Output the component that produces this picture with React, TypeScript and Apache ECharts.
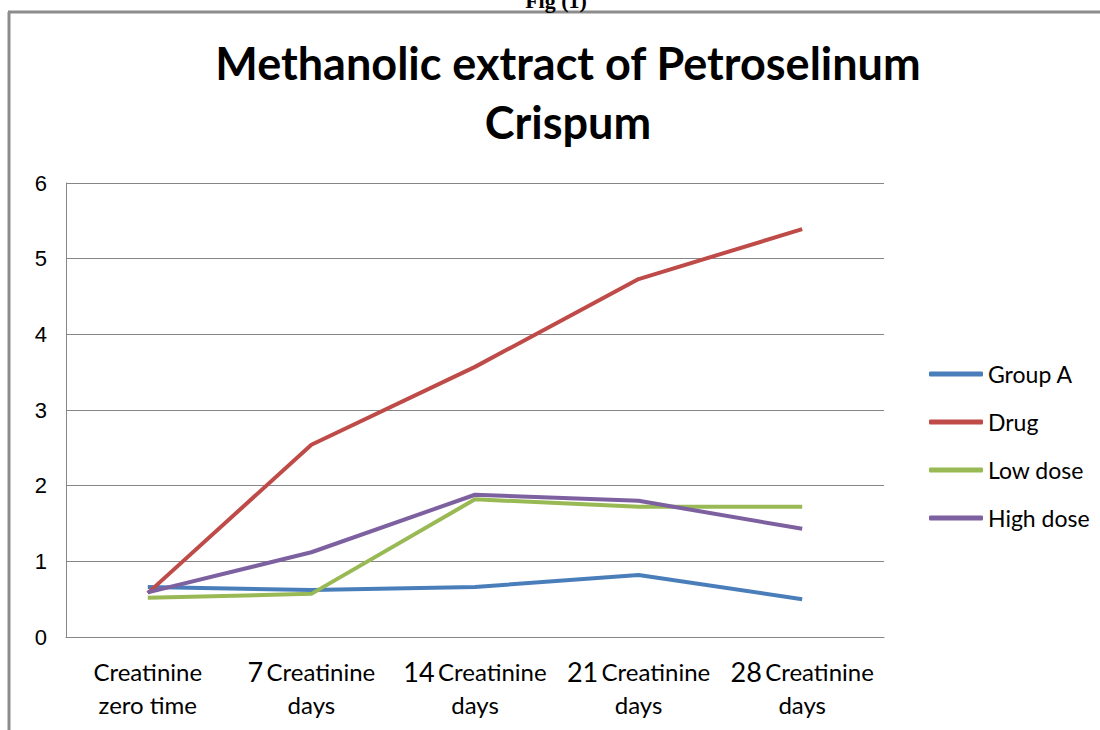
import React, { useEffect, useRef } from "react";
import * as echarts from "echarts";

const categories = [
  "Creatinine zero time",
  "7 Creatinine days",
  "14 Creatinine days",
  "21 Creatinine days",
  "28 Creatinine days",
];
const groupA = [0.66, 0.62, 0.66, 0.82, 0.5];
const drug = [0.58, 2.54, 3.57, 4.73, 5.39];
const lowDose = [0.52, 0.57, 1.82, 1.72, 1.72];
const highDose = [0.59, 1.12, 1.88, 1.8, 1.43];
const seriesNames = ["Group A", "Drug", "Low dose", "High dose"];
const colors = ["#4A7EBB", "#BE4B48", "#98B954", "#7D60A0"];
const yTicks = [0, 1, 2, 3, 4, 5, 6];

export default function App() {
  const ref = useRef<HTMLDivElement>(null);
  useEffect(() => {
    if (!ref.current) return;
    const chart = echarts.init(ref.current, undefined, { renderer: "svg" });
    const data = [groupA, drug, lowDose, highDose];
    chart.setOption({
      animation: false,
      backgroundColor: "#ffffff",
      title: {
        text: "Methanolic extract of Petroselinum\nCrispum",
        left: 563,
        textAlign: "center",
        top: 28,
        textStyle: {
          fontFamily: "Lato",
          fontWeight: "bold",
          fontSize: 45,
          lineHeight: 59,
          color: "#000",
        },
      },
      graphic: [
        {
          type: "line",
          shape: { x1: 9, y1: 12, x2: 9, y2: 730 },
          style: { stroke: "#8c8c8c", lineWidth: 3 },
        },
        {
          type: "line",
          shape: { x1: 8, y1: 12, x2: 1100, y2: 12 },
          style: { stroke: "#8c8c8c", lineWidth: 3 },
        },
        {
          type: "text",
          x: 556,
          y: 11,
          style: {
            text: "Fig (1)",
            textAlign: "center",
            textVerticalAlign: "bottom",
            font: 'bold 22px "Liberation Serif"',
            fill: "#000",
          },
        },
      ],
      legend: {
        orient: "vertical",
        left: 924,
        top: 357,
        itemWidth: 54,
        itemHeight: 5,
        itemGap: 24,
        icon: "roundRect",
        data: seriesNames,
        textStyle: { fontFamily: "Lato", fontSize: 23, lineHeight: 24, color: "#000" },
      },
      grid: { left: 66, right: 216, top: 183, bottom: 93 },
      xAxis: {
        type: "category",
        data: categories,
        boundaryGap: true,
        axisLine: { lineStyle: { color: "#868686", width: 1 } },
        axisTick: { show: false },
        axisLabel: {
          margin: 18,
          interval: 0,
          lineHeight: 33,
          formatter: (v: string) => {
            const m = v.match(/^(\d+) Creatinine days$/);
            if (m) return `{n|${m[1]}} {t|Creatinine}\n{t|days}`;
            return "{t|Creatinine}\n{t|zero time}";
          },
          rich: {
            n: { fontFamily: "Lato", fontSize: 27, color: "#000", lineHeight: 33 },
            t: { fontFamily: "Lato", fontSize: 24, color: "#000", lineHeight: 33 },
          },
        },
      },
      yAxis: {
        type: "value",
        min: yTicks[0],
        max: yTicks[yTicks.length - 1],
        interval: 1,
        axisLine: { show: true, lineStyle: { color: "#868686", width: 1 } },
        axisTick: { show: false },
        splitLine: { lineStyle: { color: "#868686", width: 1 } },
        axisLabel: {
          margin: 19,
          fontFamily: "Liberation Sans",
          fontSize: 22,
          color: "#000",
        },
      },
      series: seriesNames.map((name, i) => ({
        name,
        type: "line",
        data: data[i],
        symbol: "none",
        color: colors[i],
        lineStyle: { width: 4, color: colors[i] },
        itemStyle: { color: colors[i] },
      })),
    });
    return () => chart.dispose();
  }, []);
  return (
    <div
      ref={ref}
      style={{ position: "fixed", left: 0, top: 0, width: 1100, height: 730 }}
    />
  );
}
